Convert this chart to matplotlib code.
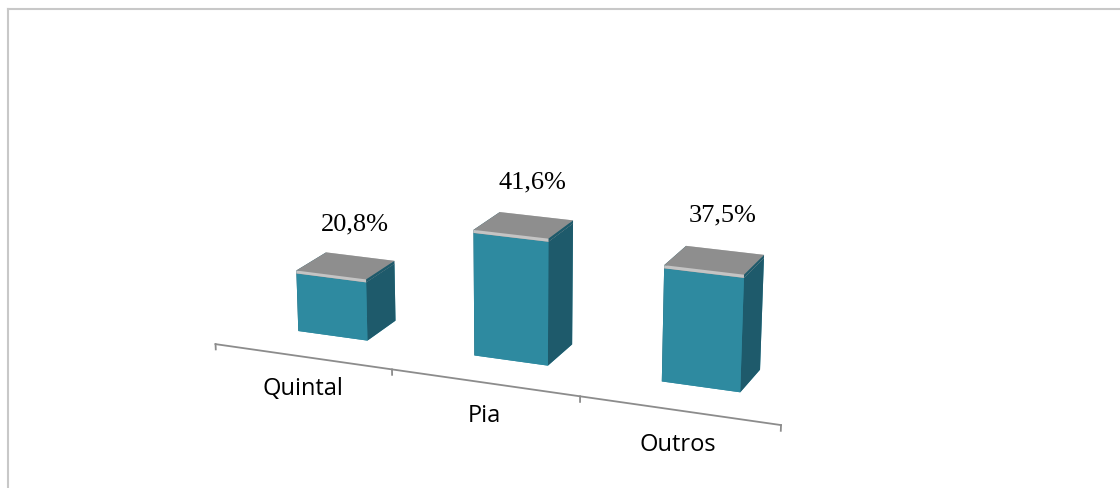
import numpy as np
import matplotlib.pyplot as plt
from matplotlib.lines import Line2D

# dados do gráfico
categorias = ["Quintal", "Pia", "Outros"]
percentuais = [20.8, 41.6, 37.5]
rotulos = ["20,8%", "41,6%", "37,5%"]

cor_frente = "#2E8AA0"
cor_lado = "#1E5A6B"
cor_topo = "#8E8E8E"
cor_borda = "#C4C4C4"

fig = plt.figure(figsize=(11.2, 4.88), dpi=100)
ax = fig.add_axes([-0.04, -0.09, 1, 1], projection="3d")
ax.set_proj_type("persp", focal_length=0.85)
ax.view_init(elev=18, azim=-68)
ax.set_box_aspect((4, 1.3, 1.0), zoom=1.28)
ax.set_axis_off()

n = len(categorias)
xs = np.arange(n)
larg = 0.40
prof = 0.35
y0 = 0.35
tampa = 1.0

for x, v in zip(xs, percentuais):
    # corpo da barra: faces -z, +z, -y, +y, -x, +x
    ax.bar3d(x - larg / 2, y0, 0, larg, prof, v - tampa,
             color=[cor_frente, cor_topo, cor_frente, cor_frente, cor_lado, cor_lado],
             shade=False, edgecolor="none")
    # tampa cinza no alto da barra
    ax.bar3d(x - larg / 2, y0, v - tampa, larg, prof, tampa,
             color=[cor_topo, cor_topo, cor_borda, cor_borda, cor_lado, cor_lado],
             shade=False, edgecolor="none")

for x, v, r in zip(xs, percentuais, rotulos):
    ax.text(x, y0 + prof * 0.85, v + 12, r, ha="center", va="center",
            fontsize=19, family="Liberation Serif", color="black")

# eixo das categorias no chão
ax.plot([-0.5, n - 0.5], [0, 0], [0, 0], color="#8C8C8C", lw=1.3)
for t in np.arange(-0.5, n, 1.0):
    ax.plot([t, t], [0, 0], [0, -1.8], color="#8C8C8C", lw=1.3)
for x, c in zip(xs, categorias):
    ax.text(x, 0, -11, c, ha="center", va="center", fontsize=17,
            family="Open Sans", color="black")

ax.set_xlim(-0.5, n - 0.5)
ax.set_ylim(0, 1)
ax.set_zlim(0, 47)

# a caixa 3D fica quadrada; nada deve ser recortado por ela
for art in ax.collections + ax.lines + ax.texts:
    art.set_clip_on(False)

# moldura do gráfico
fig.add_artist(Line2D([8 / 1120, 1], [1 - 9 / 488, 1 - 9 / 488],
                      transform=fig.transFigure, color="#C8C8C8", lw=1.5))
fig.add_artist(Line2D([8 / 1120, 8 / 1120], [0, 1 - 9 / 488],
                      transform=fig.transFigure, color="#C8C8C8", lw=1.5))

fig.savefig("out.png", dpi=100)
